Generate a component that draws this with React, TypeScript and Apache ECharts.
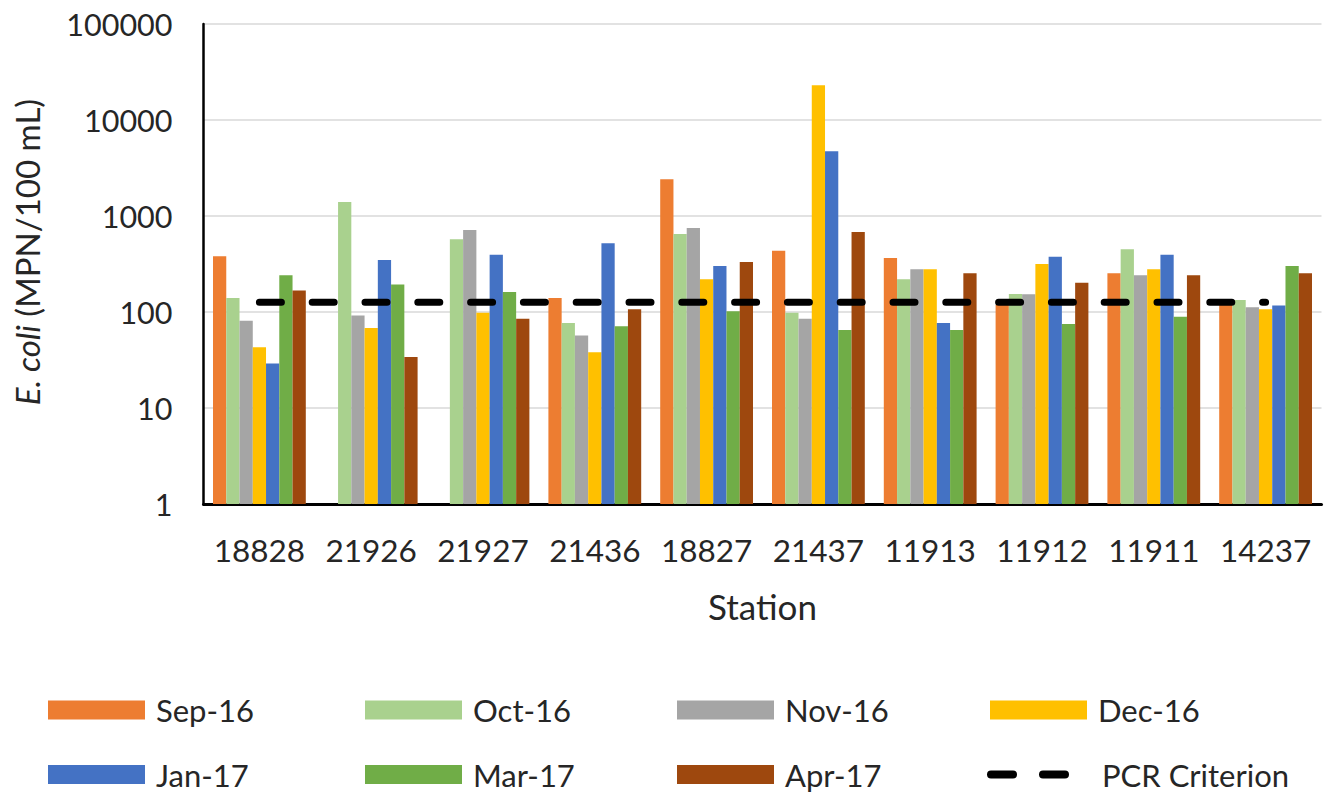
import React, { useEffect, useRef } from "react";
import * as echarts from "echarts";

const stations = ["18828", "21926", "21927", "21436", "18827", "21437", "11913", "11912", "11911", "14237"];

const sep16 = [380, null, null, 140, 2410, 435, 365, 118, 253, 120];
const oct16 = [140, 1400, 572, 77, 649, 98, 219, 154, 450, 133];
const nov16 = [81, 92, 715, 57, 750, 85, 278, 153, 241, 112];
const dec16 = [43, 68, 98, 38, 219, 22960, 278, 316, 278, 107];
const jan17 = [29, 348, 395, 519, 301, 4720, 77, 377, 395, 117];
const mar17 = [241, 193, 162, 71, 102, 65, 65, 75, 89, 301];
const apr17 = [167, 34, 85, 107, 332, 681, 253, 202, 241, 253];
const pcrCriterion = [126, 126, 126, 126, 126, 126, 126, 126, 126, 126];

const barSeries = [
  { name: "Sep-16", data: sep16, color: "#ED7D31" },
  { name: "Oct-16", data: oct16, color: "#A9D18E" },
  { name: "Nov-16", data: nov16, color: "#A5A5A5" },
  { name: "Dec-16", data: dec16, color: "#FFC000" },
  { name: "Jan-17", data: jan17, color: "#4472C4" },
  { name: "Mar-17", data: mar17, color: "#70AD47" },
  { name: "Apr-17", data: apr17, color: "#9E480E" },
];

const FONT = "Lato";
const DASH_ICON =
  "path://M4,0 H26 A4,4 0 0 1 26,8 H4 A4,4 0 0 1 4,0 Z M56,0 H78 A4,4 0 0 1 78,8 H56 A4,4 0 0 1 56,0 Z";

export default function App() {
  const ref = useRef<HTMLDivElement>(null);

  useEffect(() => {
    if (!ref.current) return;
    const chart = echarts.init(ref.current, null, { renderer: "svg" });

    const legendNames = ["Sep-16", "Oct-16", "Nov-16", "Dec-16", "Jan-17", "Mar-17", "Apr-17", "PCR Criterion"];
    const colLeft = [48, 365, 677, 990];
    const rowTop = [694.5, 759];
    const legends = legendNames.map((n, i) => {
      const isLine = n === "PCR Criterion";
      const l: any = {
        data: [n],
        left: isLine ? 987 : colLeft[i % 4],
        top: rowTop[Math.floor(i / 4)],
        orient: "horizontal",
        padding: 0,
        itemWidth: isLine ? 82 : 97,
        itemHeight: isLine ? 8 : 19,
        selectedMode: false,
        icon: isLine ? DASH_ICON : "rect",
        textStyle: {
          fontFamily: FONT,
          fontSize: 31,
          lineHeight: 28,
          color: "#262626",
          padding: [0, 0, 0, isLine ? 28 : 6],
        },
      };
      return l;
    });

    chart.setOption({
      animation: false,
      backgroundColor: "#ffffff",
      grid: { left: 203.5, right: 5.5, top: 24, bottom: 289, containLabel: false },
      legend: legends,
      xAxis: {
        type: "category",
        data: stations,
        name: "Station",
        nameLocation: "middle",
        nameGap: 84,
        nameTextStyle: { fontFamily: FONT, fontSize: 35, color: "#262626" },
        axisLine: { show: true, lineStyle: { color: "#000000", width: 3 } },
        axisTick: { show: false },
        axisLabel: { fontFamily: FONT, fontSize: 31.5, color: "#262626", margin: 30, interval: 0 },
        splitLine: { show: false },
      },
      yAxis: {
        type: "log",
        logBase: 10,
        min: 1,
        max: 100000,
        name: "{i|E. coli} (MPN/100 mL)",
        nameLocation: "middle",
        nameGap: 160,
        nameRotate: 90,
        nameTextStyle: {
          fontFamily: FONT,
          fontSize: 33,
          color: "#262626",
          padding: [0, 0, 0, 24],
          rich: {
            i: { fontFamily: FONT, fontSize: 33, fontStyle: "italic", color: "#262626" },
          },
        },
        axisLine: { show: true, lineStyle: { color: "#000000", width: 2.5 } },
        axisTick: { show: false },
        axisLabel: {
          fontFamily: FONT,
          fontSize: 30.5,
          color: "#262626",
          margin: 31,
          formatter: (v: number) => String(Math.round(v)),
        },
        splitLine: { show: true, lineStyle: { color: "#D9D9D9", width: 1.5 } },
      },
      series: [
        ...barSeries.map((s) => ({
          name: s.name,
          type: "bar",
          data: s.data,
          barGap: "0%",
          barCategoryGap: "17%",
          itemStyle: { color: s.color },
          z: 2,
        })),
        {
          name: "PCR Criterion",
          type: "line",
          data: pcrCriterion,
          symbol: "none",
          showSymbol: false,
          lineStyle: { color: "#000000", width: 7, type: [22, 30.8], cap: "round" },
          itemStyle: { color: "#000000" },
          z: 5,
        },
      ],
    });

    return () => chart.dispose();
  }, []);

  return (
    <div
      ref={ref}
      style={{ position: "fixed", left: 0, top: 0, width: 1327, height: 793, background: "#fff" }}
    />
  );
}
